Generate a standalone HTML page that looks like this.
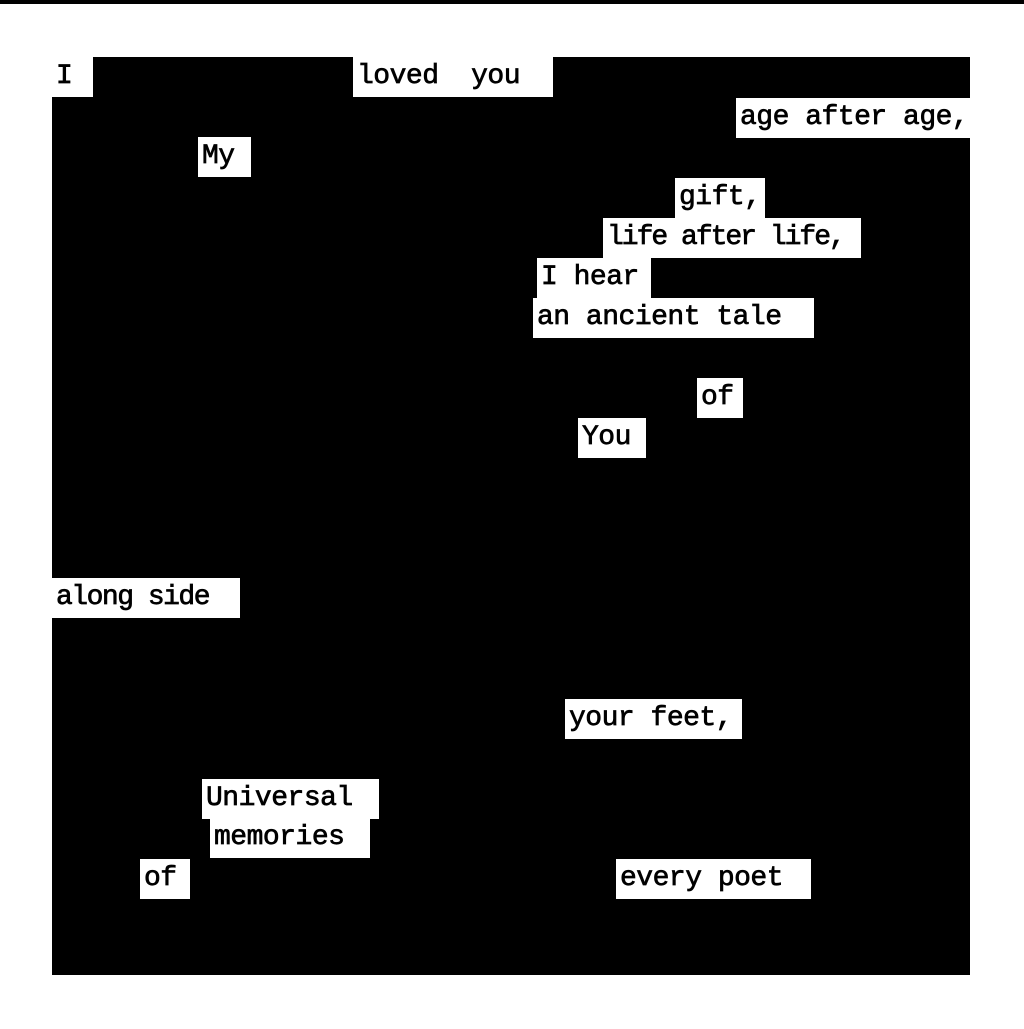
<!DOCTYPE html>
<html><head><meta charset="utf-8"><style>
html,body{margin:0;padding:0;width:1024px;height:1029px;background:#fff;overflow:hidden;position:relative}
.bar{position:absolute;left:0;top:0;width:1024px;height:4px;background:#000}
.bg{position:absolute;left:52px;top:57px;width:918px;height:918px;background:#000}
.w{position:absolute;background:#fff;height:40px;line-height:40px;font-family:"Liberation Mono",monospace;font-size:28px;color:#000;white-space:pre;box-sizing:border-box;padding-left:4px;letter-spacing:-0.5px;-webkit-text-stroke:0.7px #000}
</style></head><body>
<div class="bar"></div>
<div class="bg"></div>
<div class="w" style="left:52px;top:57px;width:41px">I</div>
<div class="w" style="left:353px;top:57px;width:200px">loved  you</div>
<div class="w" style="left:736px;top:98px;width:234px">age after age,</div>
<div class="w" style="left:198px;top:137px;width:53px">My</div>
<div class="w" style="left:675px;top:178px;width:90px">gift,</div>
<div class="w" style="left:603px;top:218px;width:258px;letter-spacing:-2px">life after life,</div>
<div class="w" style="left:537px;top:258px;width:114px">I hear</div>
<div class="w" style="left:533px;top:298px;width:281px">an ancient tale</div>
<div class="w" style="left:697px;top:378px;width:46px">of</div>
<div class="w" style="left:578px;top:418px;width:68px">You</div>
<div class="w" style="left:52px;top:578px;width:188px;letter-spacing:-1.5px">along side</div>
<div class="w" style="left:565px;top:699px;width:177px">your feet,</div>
<div class="w" style="left:202px;top:779px;width:177px">Universal</div>
<div class="w" style="left:210px;top:818px;width:160px">memories</div>
<div class="w" style="left:140px;top:859px;width:50px">of</div>
<div class="w" style="left:616px;top:859px;width:195px">every poet</div>
</body></html>
